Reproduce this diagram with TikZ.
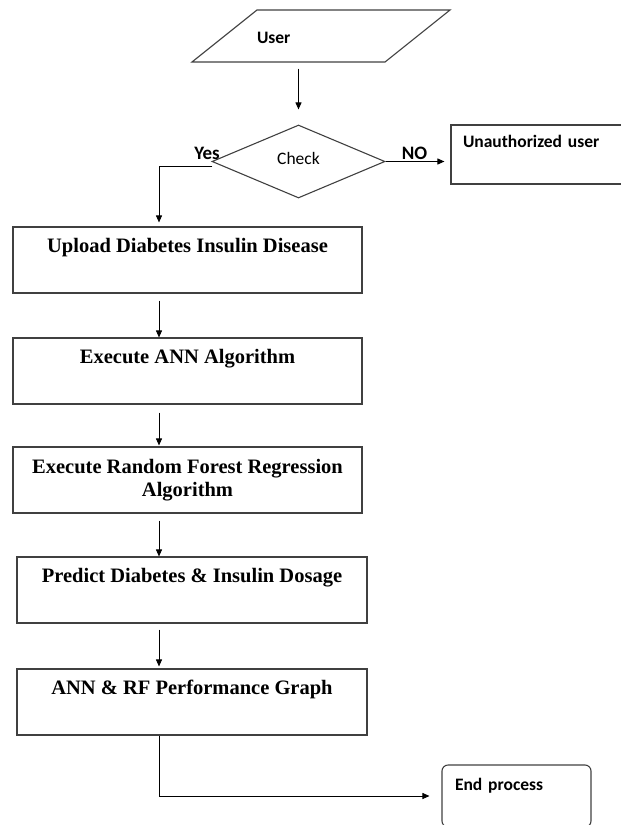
\documentclass[tikz,border=0pt]{standalone}
\usepackage{fontspec}
\setmainfont{Liberation Serif}
\setsansfont{Carlito}
\usepackage{tikz}
\usetikzlibrary{shapes.geometric, arrows.meta, positioning}

\begin{document}
\begin{tikzpicture}[
    x=1bp, y=-1bp,
    >={Triangle[length=7bp, width=6bp]},
    % Process boxes (serif, bold)
    proc/.style={
        rectangle, draw=black!75, line width=1.1bp,
        minimum width=349bp, minimum height=66bp, align=center,
        inner sep=0pt, font=\fontsize{20.5bp}{23bp}\selectfont\bfseries
    },
    % Single line process box, text near the top
    proctop/.style={
        proc, text height=25bp, text depth=41bp
    },
    % Input/output shape
    io/.style={
        trapezium, trapezium left angle=38.66, trapezium right angle=141.34,
        draw=black!75, line width=1.1bp, inner sep=0pt,
        text width=128bp, text height=33bp, text depth=19bp, align=left,
        font=\sffamily\bfseries\fontsize{17.5bp}{20bp}\selectfont
    },
    % Decision
    decision/.style={
        diamond, draw=black!75, line width=1.1bp, inner sep=0pt,
        minimum width=173bp, minimum height=73bp, text depth=6bp,
        font=\sffamily\fontsize{17.5bp}{20bp}\selectfont
    },
    % Side boxes, text top left
    side/.style={
        rectangle, draw=black!75, line width=1.1bp, align=left,
        inner xsep=12bp, inner ysep=0pt,
        font=\sffamily\bfseries\fontsize{17.5bp}{20bp}\selectfont
    },
    % Branch label
    branch/.style={
        font=\sffamily\bfseries\fontsize{19bp}{22bp}\selectfont, inner sep=0pt
    },
    % Flow arrow
    varr/.style={->, line width=0.9bp, black},
]

\useasboundingbox (0,0) rectangle (621,825);

% Column of the flow arrows
\coordinate (flow) at (159,0);

% Login part
\node[io] (user) at (321,36) {User};
\node[decision] (check) at (298.5,161.5) {Check};
\node[side, minimum width=180bp, text width=156bp,
    text height=22bp, text depth=37bp] (unauth) at (541,154.5) {Unauthorized user};

\node[branch] (yes) at (207,153) {Yes};
\node[branch] (no) at (414.5,153) {NO};

% Process steps
\node[proctop] (upload) at (187.5,260) {Upload Diabetes Insulin Disease};
\node[proctop] (ann) at (187.5,371) {Execute ANN Algorithm};
\node[proc] (rf) at (187.5,480) {Execute Random Forest Regression\\Algorithm};
\node[proctop, minimum width=350bp] (predict) at (192,590) {Predict Diabetes \& Insulin Dosage};
\node[proctop, minimum width=350bp] (perf) at (192,702) {ANN \& RF Performance Graph};

% End
\node[side, rounded corners=6bp, minimum width=149bp, text width=123bp,
    inner xsep=13bp, text height=25bp, text depth=37bp] (endp) at (516.5,796) {End process};

% Connectors
\draw[varr, shorten <=6bp, shorten >=15bp] (user.south -| check.north) -- (check.north);
\draw[varr, shorten >=6bp] (check.east) -- (check.east -| unauth.west);
\draw[varr, shorten >=4bp] ([xshift=1bp, yshift=-5bp]check.west) -| (upload.north -| flow);
\draw[varr, shorten <=7bp] (upload.south -| flow) -- (ann.north -| flow);
\draw[varr, shorten <=8bp, shorten >=1bp] (ann.south -| flow) -- (rf.north -| flow);
\draw[varr, shorten <=7bp] (rf.south -| flow) -- (predict.north -| flow);
\draw[varr, shorten <=6bp, shorten >=2bp] (predict.south -| flow) -- (perf.north -| flow);
\draw[varr, shorten >=12bp] (perf.south -| flow) |- (endp.west);

\end{tikzpicture}
\end{document}
